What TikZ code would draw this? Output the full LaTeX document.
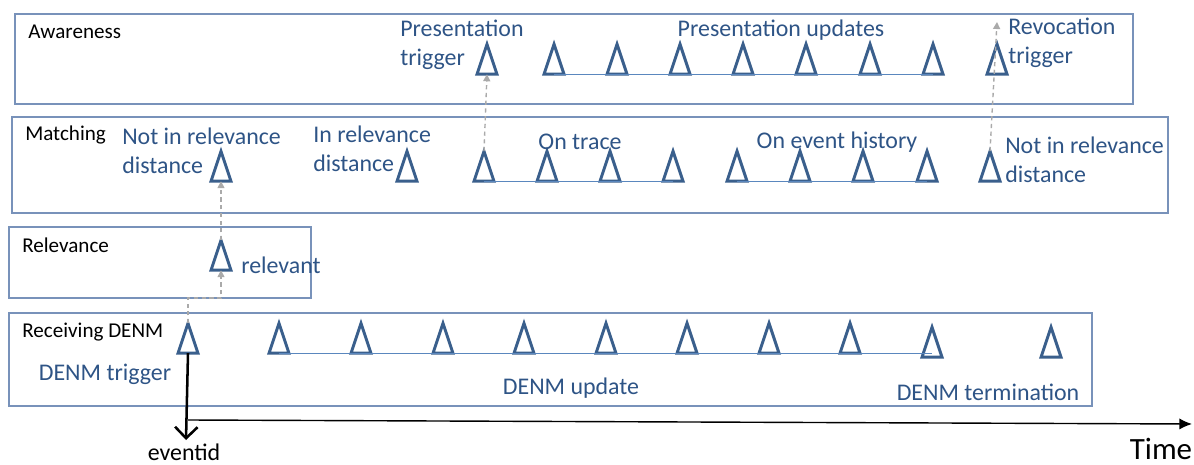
\documentclass[tikz,border=0pt]{standalone}
\usepackage{fontspec}
\setmainfont{Carlito}
\usetikzlibrary{arrows.meta,shapes.geometric}
\definecolor{TriBlue}{RGB}{58,95,140}
\definecolor{LabelBlue}{RGB}{46,84,134}
\definecolor{LaneBlue}{RGB}{120,146,186}
\definecolor{LinkBlue}{RGB}{90,135,190}
\definecolor{FlowGray}{RGB}{170,170,170}

\begin{document}
\begin{tikzpicture}[x=0.025cm, y=-0.025cm, >=Stealth,
    lane/.style={draw=LaneBlue, line width=0.8pt},
    lanetitle/.style={font=\fontsize{15}{18}\selectfont, inner sep=0, anchor=west},
    lbl/.style={text=LabelBlue, font=\fontsize{17}{21}\selectfont, inner sep=0, align=left},
    tri/.style={draw=TriBlue, line width=2.1pt, isosceles triangle, isosceles triangle stretches,
        shape border rotate=90, minimum width=0.5cm, minimum height=0.75cm, inner sep=0, outer sep=0},
    link/.style={draw=LinkBlue, line width=0.7pt},
    flow/.style={draw=FlowGray, line width=1pt, dash pattern=on 3pt off 2.5pt,
        -{Triangle[length=5pt, width=5pt]}}]
    \useasboundingbox (0,0) rectangle (1194,465);

    % Lanes
    \draw[lane] (15,14) rectangle (1133,104);
    \draw[lane] (12,117) rectangle (1168,213);
    \draw[lane] (9,227) rectangle (311,298);
    \draw[lane] (9,313) rectangle (1092,406);
    \node[lanetitle] (awtitle) at (28,32) {Awareness};
    \node[lanetitle] (mttitle) at (25,135) {Matching};
    \node[lanetitle] (rltitle) at (22,245) {Relevance};
    \node[lanetitle] (rdtitle) at (22,332) {Receiving DENM};

    % Awareness
    \foreach \x [count=\i] in {487,554,617,680,743,806,870,933,997}
        \node[tri] (aw-\i) at (\x,67) {};
    \draw[link] (aw-2.south) -- (aw-8.south);
    \node[lbl, anchor=west] (prestrig) at (400,45) {Presentation\\trigger};
    \node[lbl] (presupd) at (781,30) {Presentation updates};
    \node[lbl, anchor=west] (revtrig) at (1008,43) {Revocation\\trigger};

    % Matching
    \foreach \x [count=\i] in {221,407,484,547,610,673,737,800,863,927,990}
        \node[tri] (mt-\i) at (\x,174) {};
    \draw[link] (mt-3.south) -- (mt-6.south);
    \draw[link] (mt-7.south) -- (mt-10.south);
    \node[lbl, anchor=west] (notrel) at (122,151) {Not in relevance\\distance};
    \node[lbl, anchor=west] (inrel) at (313,149) {In relevance\\distance};
    \node[lbl] (ontrace) at (580,142) {On trace};
    \node[lbl] (onhist) at (837,142) {On event history};
    \node[lbl, anchor=west] (notrel2) at (1005,160) {Not in relevance\\distance};

    % Relevance
    \node[tri] (rel) at (221,263) {};
    \node[lbl, anchor=west] (relevant) at (241,265) {relevant};

    % Receiving DENM
    \foreach \x [count=\i] in {188,279,361,443,524,606,687,769,850}
        \node[tri] (rd-\i) at (\x,346) {};
    \node[tri] (rd-10) at (932,350) {};
    \node[tri] (rd-11) at (1051,350) {};
    \draw[link] (rd-2.south) -- (rd-2.south -| rd-10.south);
    \node[lbl] (denmtrig) at (105,374) {DENM trigger};
    \node[lbl] (denmupd) at (571,388) {DENM update};
    \node[lbl] (denmterm) at (988,392) {DENM termination};

    % Flow between layers
    \draw[flow] (rd-1.north) -- ++(0,-25) -| (rel.south);
    \draw[flow] (rel.north) -- (mt-1.south);
    \draw[flow] (mt-3.north) -- (aw-1.south);
    \coordinate (revend) at (997,22);
    \draw[flow] (mt-11.north) -- (revend);

    % Time axis
    \node[font=\fontsize{17}{20}\selectfont, inner sep=0] (eventid) at (184,452) {eventid};
    \coordinate (evtip) at (186,440);
    \draw[line width=1.8pt, -{Straight Barb[length=8pt, width=16pt, line width=1.8pt]}] (rd-1.south) -- (evtip);
    \coordinate (t0) at (188,420);
    \coordinate (t1) at (1192,424);
    \draw[-{Latex[length=9pt, width=8pt]}, line width=1pt] (t0) -- (t1);
    \node[font=\fontsize{22}{26}\selectfont, inner sep=0] (time) at (1161,449) {Time};
\end{tikzpicture}
\end{document}
